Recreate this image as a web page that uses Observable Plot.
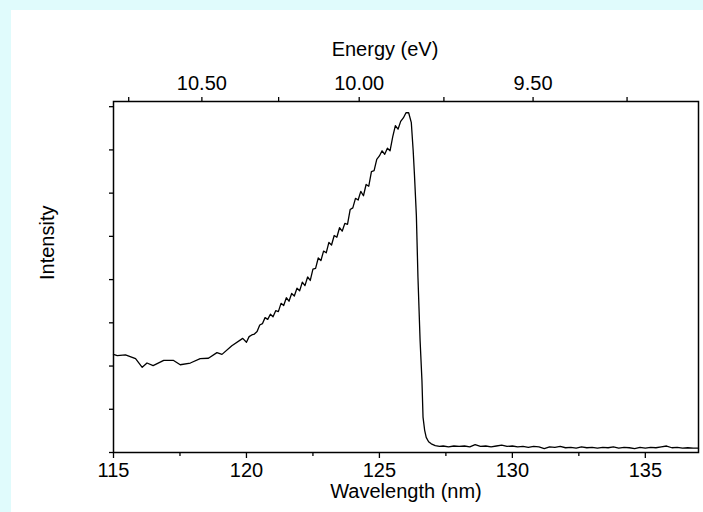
<!DOCTYPE html>
<html>
<head>
<meta charset="utf-8">
<script src="https://cdn.jsdelivr.net/npm/d3@7"></script>
<script src="https://cdn.jsdelivr.net/npm/@observablehq/plot@0.6"></script>
<style>
  html, body { margin: 0; padding: 0; background: #e0fbfc; width: 703px; height: 512px; overflow: hidden; }
  #panel { position: absolute; left: 11px; top: 10px; width: 692px; height: 502px; background: #ffffff; }
  #panel svg { display: block; }
</style>
</head>
<body>
<div id="panel"></div>
<script>
// Wavelength (nm) and intensity (arb. units)
const wavelength = [
  115.00, 115.14, 115.45, 115.83, 116.08, 116.26, 116.49, 116.89, 117.26, 117.51, 117.89, 118.26, 118.57, 118.89, 119.08, 119.45, 119.86,
  120.0, 120.1, 120.2, 120.3, 120.4, 120.5, 120.6, 120.7, 120.8, 120.9,
  121.0, 121.1, 121.2, 121.3, 121.4, 121.5, 121.6, 121.7, 121.8, 121.9,
  122.0, 122.1, 122.2, 122.3, 122.4, 122.5, 122.6, 122.7, 122.8, 122.9,
  123.0, 123.1, 123.2, 123.3, 123.4, 123.5, 123.6, 123.7, 123.8, 123.9,
  124.0, 124.1, 124.2, 124.3, 124.4, 124.5, 124.6, 124.7, 124.8, 124.9,
  125.0, 125.1, 125.2, 125.3, 125.4, 125.5, 125.6, 125.7, 125.8, 125.9,
  126.0, 126.1, 126.2, 126.27, 126.32, 126.39, 126.45, 126.53, 126.60, 126.64, 126.70, 126.76, 126.85, 126.95, 127.1, 127.26,
  127.4, 127.6, 127.8, 128.0, 128.2, 128.4, 128.6, 128.8, 129.0, 129.2, 129.4, 129.6, 129.8,
  130.0, 130.2, 130.4, 130.6, 130.8, 131.0, 131.2, 131.4, 131.6, 131.8,
  132.0, 132.2, 132.4, 132.6, 132.8, 133.0, 133.2, 133.4, 133.6, 133.8,
  134.0, 134.2, 134.4, 134.6, 134.8, 135.0, 135.2, 135.4, 135.6, 135.8,
  136.0, 136.2, 136.4, 136.6, 136.8, 137.0
];
const intensity = [
  2.27, 2.24, 2.26, 2.17, 1.97, 2.07, 2.01, 2.13, 2.13, 2.03, 2.07, 2.17, 2.18, 2.31, 2.27, 2.47, 2.64,
  2.55, 2.68, 2.72, 2.74, 2.80, 2.95, 2.98, 3.12, 3.08, 3.20,
  3.14, 3.28, 3.26, 3.45, 3.40, 3.58, 3.50, 3.68, 3.62, 3.80,
  3.74, 3.94, 3.86, 4.06, 3.98, 4.24, 4.26, 4.50, 4.44, 4.66,
  4.62, 4.86, 4.80, 5.02, 4.98, 5.20, 5.12, 5.30, 5.28, 5.62,
  5.66, 5.88, 5.84, 6.04, 5.94, 6.20, 6.16, 6.50, 6.52, 6.78,
  6.86, 6.98, 6.90, 7.04, 6.98, 7.30, 7.56, 7.48, 7.66, 7.74,
  7.86, 7.86, 7.63, 6.98, 6.40, 5.48, 4.05, 2.59, 1.66, 0.82, 0.52, 0.35, 0.25, 0.20, 0.16, 0.14,
  0.15, 0.13, 0.15, 0.14, 0.15, 0.13, 0.18, 0.14, 0.15, 0.13, 0.15, 0.17, 0.14,
  0.15, 0.13, 0.14, 0.12, 0.14, 0.13, 0.09, 0.13, 0.12, 0.14,
  0.11, 0.12, 0.10, 0.13, 0.11, 0.12, 0.10, 0.12, 0.11, 0.13,
  0.10, 0.12, 0.11, 0.09, 0.12, 0.10, 0.12, 0.11, 0.13, 0.15,
  0.11, 0.12, 0.10, 0.11, 0.10, 0.10
];

// Axis ticks
const wavelengthTicks = [115, 120, 125, 130, 135];
const wavelengthMinorTicks = [117.5, 122.5, 127.5, 132.5];
const energyTicks = [10.50, 10.00, 9.50];
const energyMinorTicks = [10.75, 10.25, 9.75, 9.25];
const intensityTicks = [0, 1, 2, 3, 4, 5, 6, 7, 8];
const hc = 1242.4; // eV·nm, as implied by the top axis of the picture

const data = wavelength.map((w, i) => ({w, v: intensity[i]}));
const toNm = e => hc / e;

const chart = Plot.plot({
  width: 692,
  height: 502,
  marginLeft: 102,
  marginRight: 5,
  marginTop: 91,
  marginBottom: 60,
  style: {fontFamily: "'Liberation Sans', Arial, Helvetica, sans-serif", fontSize: "20px", color: "black", background: "white"},
  x: {domain: [115, 137]},
  y: {domain: [0, 8.12]},
  marks: [
    Plot.axisX({anchor: "bottom", ticks: wavelengthTicks, tickSize: 6, tickPadding: 4, fontSize: 20, label: null, tickFormat: d => String(d), strokeWidth: 1.3}),
    Plot.axisX({anchor: "bottom", ticks: wavelengthMinorTicks, tickSize: 4, tickFormat: () => "", label: null, strokeWidth: 1.3}),
    Plot.axisX({anchor: "top", ticks: energyTicks.map(toNm), tickSize: 5, tickPadding: 7, fontSize: 20, label: null, tickFormat: d => (hc / d).toFixed(2), strokeWidth: 1.3}),
    Plot.axisX({anchor: "top", ticks: energyMinorTicks.map(toNm), tickSize: 5, tickFormat: () => "", label: null, strokeWidth: 1.3}),
    Plot.axisY({anchor: "left", ticks: intensityTicks, tickSize: 4, tickFormat: () => "", label: null, strokeWidth: 1.3}),
    Plot.frame({stroke: "black", strokeWidth: 1.5}),
    Plot.line(data, {x: "w", y: "v", stroke: "black", strokeWidth: 1.3, curve: "linear"}),
    Plot.text(["Wavelength (nm)"], {frameAnchor: "bottom", dy: 39, fontSize: 20, lineAnchor: "middle", fill: "black"}),
    Plot.text(["Energy (eV)"], {frameAnchor: "top", dy: -52, dx: -21, fontSize: 20, lineAnchor: "middle", fill: "black"}),
    Plot.text(["Intensity"], {frameAnchor: "left", dx: -66, dy: 3, rotate: -90, fontSize: 20, lineAnchor: "middle", fill: "black"})
  ]
});
document.getElementById("panel").appendChild(chart);
</script>
</body>
</html>
